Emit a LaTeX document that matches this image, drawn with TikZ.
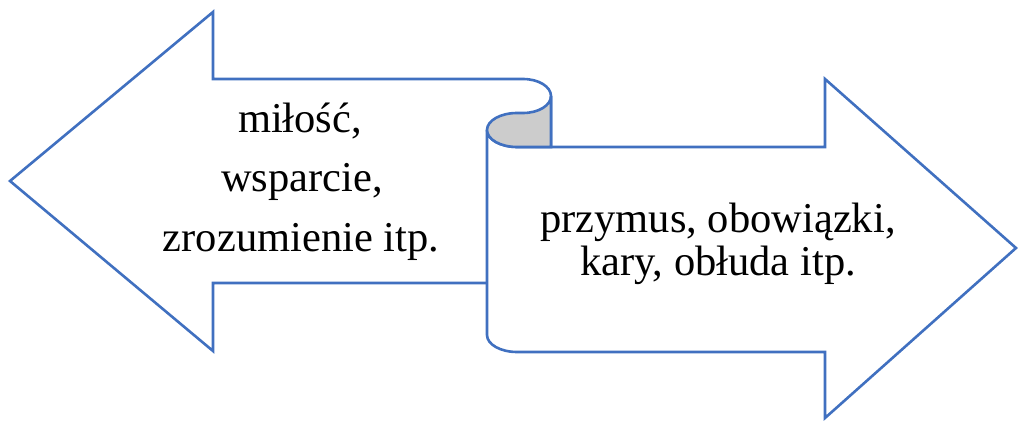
\documentclass[tikz,border=0pt]{standalone}
\usepackage{fontspec}
\setmainfont{Liberation Serif}
\definecolor{arrowblue}{HTML}{4070C0}
\definecolor{curlgray}{HTML}{CCCCCC}
\begin{document}
\begin{tikzpicture}[x=1pt,y=1pt,
  outline/.style={draw=arrowblue,line width=2.6pt,line join=miter},
  lbl/.style={anchor=base,inner sep=0pt,font=\fontsize{42.5}{50}\selectfont}]
\useasboundingbox (0,0) rectangle (1018,421);
% left arrow with curled end
\path[outline,fill=white] (551,138) -- (213,138) -- (213,70) -- (10,240) -- (213,409) -- (213,342) -- (523,342)
  arc[start angle=90,end angle=0,x radius=28,y radius=17] -- cycle;
% right arrow
\path[outline,fill=white] (487,291) -- (487,86)
  arc[start angle=180,end angle=270,x radius=30,y radius=17] -- (825,69) -- (825,3) -- (1016,173) -- (825,342) -- (825,274) -- (517,274)
  arc[start angle=270,end angle=180,x radius=30,y radius=17] -- cycle;
% curl
\path[outline,fill=curlgray] (551,325) arc[start angle=0,end angle=-90,x radius=28,y radius=17] -- (517,308)
  arc[start angle=90,end angle=270,x radius=30,y radius=17] -- (551,274) -- cycle;
% texts
\node[lbl] (l1) at (300,288) {miłość,};
\node[lbl] (l2) at (302,229) {wsparcie,};
\node[lbl] (l3) at (301,169) {zrozumienie itp.};
\node[lbl] (r1) at (718,188) {przymus, obowiązki,};
\node[lbl] (r2) at (718,146) {kary, obłuda itp.};
\end{tikzpicture}
\end{document}
